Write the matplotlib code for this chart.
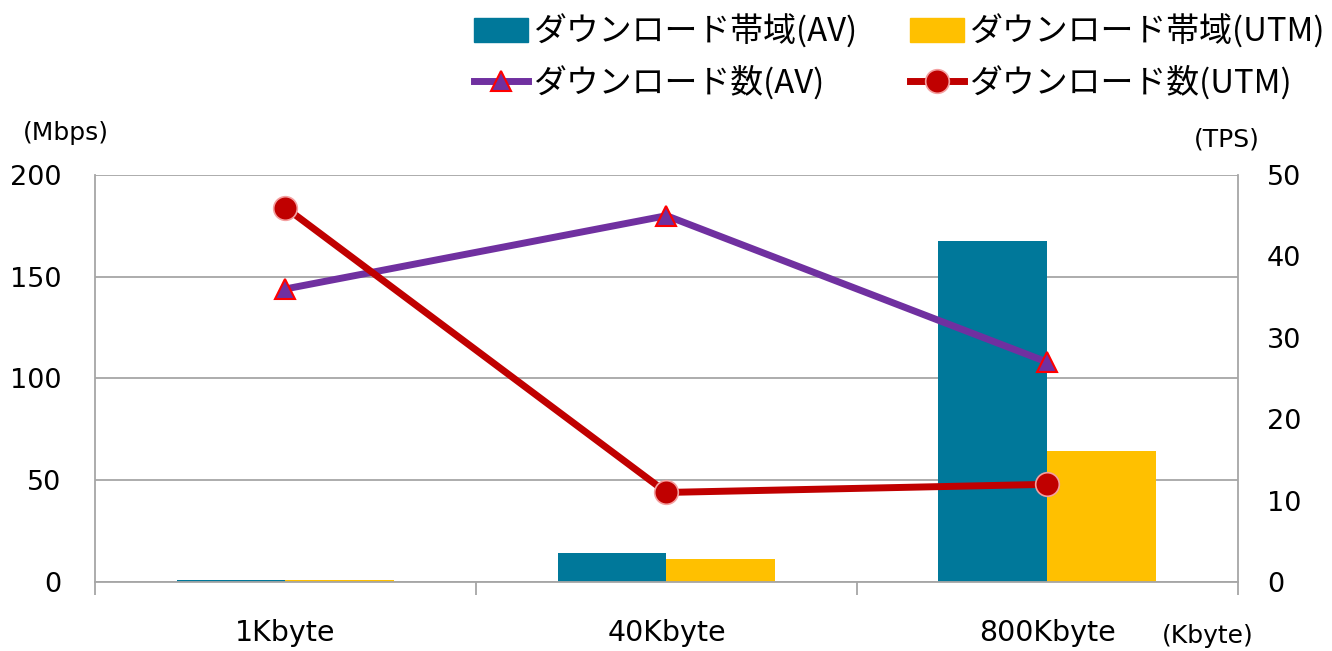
import numpy as np
import matplotlib
matplotlib.use('Agg')
import matplotlib.pyplot as plt
from matplotlib.patches import Patch
from matplotlib.lines import Line2D

plt.rcParams['font.family'] = ['DejaVu Sans', 'Noto Sans CJK JP']

categories = ['1Kbyte', '40Kbyte', '800Kbyte']
bw_av = [0.8, 14.3, 167.6]     # Mbps
bw_utm = [0.8, 11.3, 64.4]     # Mbps
tps_av = [36, 45, 27]
tps_utm = [46, 11, 12]

teal = '#00789A'
yellow = '#FFC000'
purple = '#7030A0'
red = '#C00000'
grid = '#A6A6A6'

fig = plt.figure(figsize=(13.32, 6.51), dpi=100)
ax = fig.add_axes([0.0713, 0.106, 0.8581, 0.6252])
x = np.arange(len(categories))
w = 0.286

ax.bar(x - w / 2, bw_av, w, color=teal, zorder=2)
ax.bar(x + w / 2, bw_utm, w, color=yellow, zorder=2)

ax.set_xlim(-0.5, 2.5)
ax.set_ylim(0, 200)
ax.set_yticks([0, 50, 100, 150, 200])
ax.yaxis.grid(True, color=grid, lw=1.3, zorder=0)
ax.set_axisbelow(True)
for s in ['left', 'right', 'bottom']:
    ax.spines[s].set_color(grid)
    ax.spines[s].set_linewidth(1.3)
ax.spines['top'].set_visible(False)
ax.set_xticks(x)
ax.set_xticklabels(categories, fontsize=20.5)
ax.set_xticks([-0.5, 0.5, 1.5, 2.5], minor=True)
ax.tick_params(axis='x', which='major', length=0, pad=27)
ax.tick_params(axis='x', which='minor', length=9, width=1.3, color=grid)
ax.tick_params(axis='y', length=0, labelsize=19.5, pad=24)

ax2 = ax.twinx()
ax2.set_ylim(0, 50)
ax2.set_yticks([0, 10, 20, 30, 40, 50])
ax2.tick_params(axis='y', length=0, labelsize=19.5, pad=21)
for s in ax2.spines.values():
    s.set_visible(False)
ax2.plot(x, tps_av, color=purple, lw=5, marker='^', ms=15,
         mfc=purple, mec='#FF0000', mew=1.5, zorder=3)
ax2.plot(x, tps_utm, color=red, lw=5, marker='o', ms=17,
         mfc=red, mec='#F4A0A0', mew=1.2, zorder=4)

fig.text(0.017, 0.796, '(Mbps)', fontsize=18, va='center')
fig.text(0.896, 0.785, '(TPS)', fontsize=18, va='center')
fig.text(0.872, 0.023, '(Kbyte)', fontsize=18, va='center')

handles = [
    Patch(color=teal),
    Line2D([], [], color=purple, lw=5, marker='^', ms=15, mfc=purple,
           mec='#FF0000', mew=1.5),
    Patch(color=yellow),
    Line2D([], [], color=red, lw=5, marker='o', ms=17, mfc=red,
           mec='#F4A0A0', mew=1.2),
]
labels = ['ダウンロード帯域(AV)', 'ダウンロード数(AV)',
          'ダウンロード帯域(UTM)', 'ダウンロード数(UTM)']
fig.legend(handles, labels, ncol=2, loc='upper right',
           bbox_to_anchor=(0.997, 0.983), frameon=False,
           prop={'family': ['Noto Sans CJK JP'], 'size': 23.7},
           handlelength=1.65, handletextpad=0.15, columnspacing=1.6,
           labelspacing=0.5, borderaxespad=0, borderpad=0.1)

fig.savefig('out.png', dpi=100)
